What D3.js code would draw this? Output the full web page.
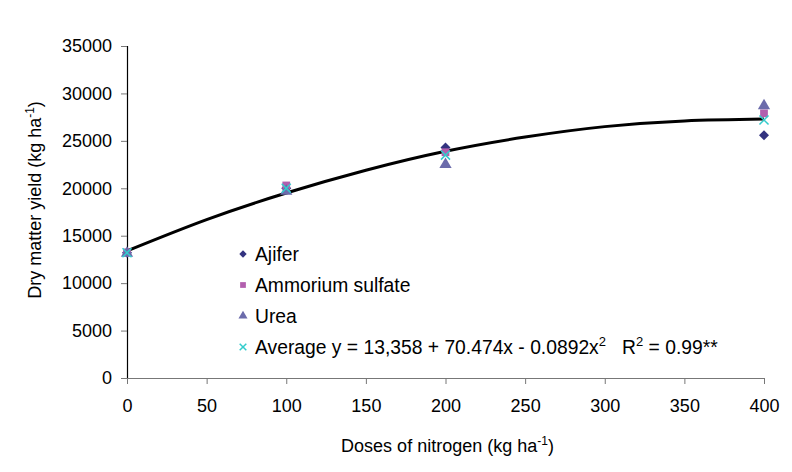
<!DOCTYPE html>
<html>
<head>
<meta charset="utf-8">
<script src="https://cdn.jsdelivr.net/npm/d3@7"></script>
<style>
  body { margin: 0; background: #fff; }
  svg { font-family: "Liberation Sans", Arial, sans-serif; }
</style>
</head>
<body>
<svg class="svg-chart" width="792" height="472"></svg>
<script>
// doses of nitrogen (kg/ha)
var doses = [0, 100, 200, 400];
var ajifer = [13200, 20000, 24300, 25600];
var ammonium = [13250, 20300, 23800, 27900];
var urea = [13150, 19700, 22500, 28700];
var average = [13200, 20000, 23500, 27200];

// trend line
var trendX = [0, 50, 100, 150, 200, 250, 300, 350, 400];
var trendY = [13400, 16700, 19500, 21900, 23900, 25400, 26500, 27100, 27300];

var xTicks = [0, 50, 100, 150, 200, 250, 300, 350, 400];
var yTicks = [0, 5000, 10000, 15000, 20000, 25000, 30000, 35000];

var margin = {top: 46, right: 28, bottom: 94, left: 127},
    width = 792 - margin.left - margin.right,
    height = 472 - margin.top - margin.bottom;

var x = d3.scaleLinear().domain([0, 400]).range([0, width]);
var y = d3.scaleLinear().domain([0, 35000]).range([height, 0]);

var svg = d3.select(".svg-chart");
var chart = svg.append("g")
    .attr("transform", "translate(" + margin.left + "," + margin.top + ")");

// axes
var yAxis = chart.append("g")
    .call(d3.axisLeft(y).tickValues(yTicks).tickSize(6).tickPadding(9).tickFormat(d3.format("d")));
yAxis.select(".domain").attr("stroke", "#000").attr("stroke-width", 1.2);
yAxis.selectAll("line").attr("stroke", "#777");
yAxis.selectAll("text").style("font-size", "18px").attr("fill", "#000");

var xAxis = chart.append("g")
    .attr("transform", "translate(0," + height + ")")
    .call(d3.axisBottom(x).tickValues(xTicks).tickSize(6).tickPadding(15).tickSizeOuter(0));
xAxis.select(".domain").attr("stroke", "#777").attr("stroke-width", 1.2);
xAxis.selectAll("line").attr("stroke", "#777");
xAxis.selectAll("text").style("font-size", "18px").attr("fill", "#000");

// axis titles
var xt = svg.append("text")
    .attr("x", margin.left + width / 2 + 2)
    .attr("y", 452)
    .attr("text-anchor", "middle")
    .style("font-size", "18px");
xt.append("tspan").text("Doses of nitrogen (kg ha");
xt.append("tspan").attr("dy", -7).style("font-size", "12px").text("-1");
xt.append("tspan").attr("dy", 7).text(")");

var yt = svg.append("text")
    .attr("transform", "translate(41," + (margin.top + height / 2 - 12) + ") rotate(-90)")
    .attr("text-anchor", "middle")
    .style("font-size", "18px");
yt.append("tspan").text("Dry matter yield (kg ha");
yt.append("tspan").attr("dy", -7).style("font-size", "12px").text("-1");
yt.append("tspan").attr("dy", 7).text(")");

// trend line
var line = d3.line()
    .x(function(d, i) { return x(trendX[i]); })
    .y(function(d) { return y(d); })
    .curve(d3.curveNatural);

chart.append("path")
    .datum(trendY)
    .attr("d", line)
    .attr("fill", "none")
    .attr("stroke", "#000")
    .attr("stroke-width", 3);

// markers (diamond = square turned 45deg)
var series = [
  {name: "Ajifer", values: ajifer, symbol: d3.symbolSquare, rot: 45, size: 50, color: "#333380"},
  {name: "Ammorium sulfate", values: ammonium, symbol: d3.symbolSquare, rot: 0, size: 60, color: "#b25fae"},
  {name: "Urea", values: urea, symbol: d3.symbolTriangle, rot: 0, size: 65, color: "#6b6bab"},
  {name: "Average y = 13,358 + 70.474x - 0.0892x", values: average, symbol: d3.symbolX, rot: 0, size: 55, color: "#33cccc"}
];

function drawSymbol(g, s) {
  var p = g.append("path")
      .attr("d", d3.symbol().type(s.symbol).size(s.size)())
      .attr("transform", "rotate(" + s.rot + ")");
  if (s.symbol === d3.symbolX) {
    p.attr("fill", "none").attr("stroke", s.color).attr("stroke-width", 1.5);
  } else {
    p.attr("fill", s.color);
  }
  return p;
}

series.forEach(function(s) {
  s.values.forEach(function(v, i) {
    var g = chart.append("g")
        .attr("transform", "translate(" + x(doses[i]) + "," + y(v) + ")");
    drawSymbol(g, s);
  });
});

// legend
var legend = svg.append("g").attr("transform", "translate(243,254)");
series.forEach(function(s, i) {
  var row = legend.append("g").attr("transform", "translate(0," + (i * 31) + ")");
  var ls = Object.assign({}, s, {size: s.size * 0.55});
  drawSymbol(row, ls);
  var t = row.append("text")
      .attr("x", 12)
      .attr("y", 7)
      .style("font-size", "19.3px")
      .text(s.name);
  if (i === 3) {
    t.append("tspan").attr("dy", -8).style("font-size", "13px").text("2");
    t.append("tspan").attr("dy", 8).text("\u00a0\u00a0\u00a0R");
    t.append("tspan").attr("dy", -8).style("font-size", "13px").text("2");
    t.append("tspan").attr("dy", 8).text(" = 0.99**");
  }
});
</script>
</body>
</html>
